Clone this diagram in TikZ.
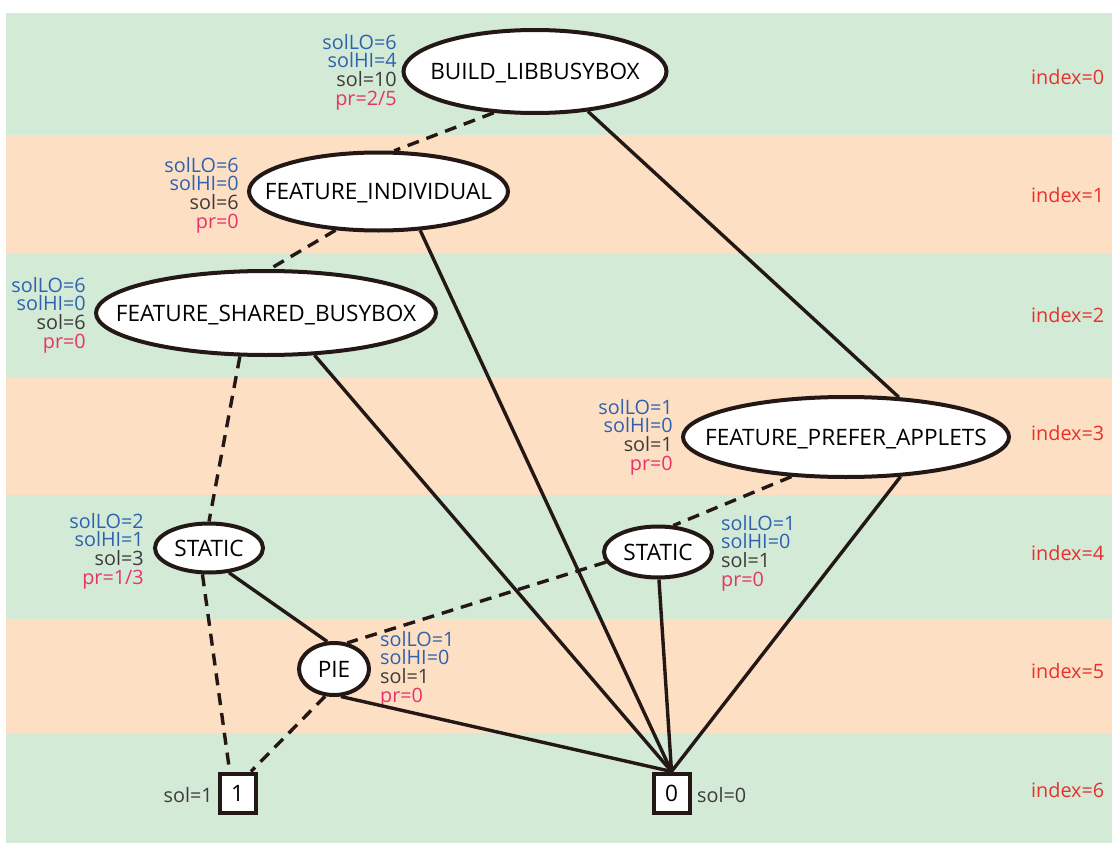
\documentclass[tikz,border=0pt]{standalone}
\usepackage{fontspec}
\setmainfont{Open Sans}
\usetikzlibrary{shapes.geometric}

\definecolor{bandgreen}{HTML}{D3EAD6}
\definecolor{bandorange}{HTML}{FDDFC3}
\definecolor{ink}{HTML}{231815}
\definecolor{loblue}{HTML}{2F62AE}
\definecolor{solgray}{HTML}{3E3A3A}
\definecolor{prpink}{HTML}{E8336A}
\definecolor{idxred}{HTML}{E8302C}

\newcommand{\solinfo}[4]{\textcolor{loblue}{solLO=#1}\\\textcolor{loblue}{solHI=#2}\\\textcolor{solgray}{sol=#3}\\\textcolor{prpink}{pr=#4}}
\newcommand{\vname}[1]{\makebox[0pt]{#1}}

\tikzset{
  bdd/.style={ellipse, draw=ink, line width=4pt, fill=white, inner sep=0pt,
    text height=16pt, text depth=0pt, font=\fontsize{22.6}{26}\selectfont},
  term/.style={rectangle, draw=ink, line width=4pt, fill=white, inner sep=0pt,
    minimum width=36pt, minimum height=39pt, text height=16pt, text depth=0pt,
    font=\fontsize{22.6}{26}\selectfont},
  info/.style={inner sep=0pt, font=\fontsize{19.8}{18.6}\selectfont},
  idx/.style={anchor=west, inner sep=0pt, text height=14.5pt, text depth=0pt,
    text=idxred, font=\fontsize{19.8}{22}\selectfont},
  loedge/.style={draw=ink, line width=3.4pt, dash pattern=on 12pt off 8pt},
  hiedge/.style={draw=ink, line width=3.4pt}
}

\begin{document}
\begin{tikzpicture}[x=1pt, y=-1pt]
  \useasboundingbox (0,0) rectangle (1112,843);

  % Bands
  \foreach \ytop/\ybot/\col in {13/135/bandgreen, 135/253/bandorange, 253/377/bandgreen,
      377/495/bandorange, 495/619/bandgreen, 619/733/bandorange, 733/843/bandgreen}
    \fill[\col] (6,\ytop) rectangle (1112,\ybot);

  \foreach \i/\y in {0/77, 1/195, 2/315, 3/433, 4/553, 5/671, 6/790}
    \node[idx] (idx\i) at (1031,\y) {index=\i};

  % Nodes
  \node[bdd, minimum width=263pt, minimum height=83pt] (build) at (535,71.5) {\vname{BUILD\_LIBBUSYBOX}};
  \node[bdd, minimum width=259pt, minimum height=78pt] (indiv) at (378.5,191.5) {\vname{FEATURE\_INDIVIDUAL}};
  \node[bdd, minimum width=340pt, minimum height=84pt] (shared) at (266,313) {\vname{FEATURE\_SHARED\_BUSYBOX}};
  \node[bdd, minimum width=326pt, minimum height=80pt] (prefer) at (846,437) {\vname{FEATURE\_PREFER\_APPLETS}};
  \node[bdd, minimum width=108pt, minimum height=49pt] (staticL) at (209,548) {\vname{STATIC}};
  \node[bdd, minimum width=108pt, minimum height=51pt] (staticR) at (658,552) {\vname{STATIC}};
  \node[bdd, minimum width=70pt, minimum height=52pt] (pie) at (334,669) {\vname{PIE}};
  \node[term] (one) at (237.5,793) {1};
  \node[term] (zero) at (671.5,793) {0};

  % Values
  \node[info, anchor=east, align=right] (build-info) at (397,72) {\solinfo{6}{4}{10}{2/5}};
  \node[info, anchor=east, align=right] (indiv-info) at (239,195) {\solinfo{6}{0}{6}{0}};
  \node[info, anchor=east, align=right] (shared-info) at (86,315) {\solinfo{6}{0}{6}{0}};
  \node[info, anchor=east, align=right] (prefer-info) at (673,437) {\solinfo{1}{0}{1}{0}};
  \node[info, anchor=east, align=right] (staticL-info) at (144,551) {\solinfo{2}{1}{3}{1/3}};
  \node[info, anchor=west, align=left] (staticR-info) at (721,553) {\solinfo{1}{0}{1}{0}};
  \node[info, anchor=west, align=left] (pie-info) at (380,669) {\solinfo{1}{0}{1}{0}};
  \node[info, anchor=east, text=solgray] (one-info) at (213,795) {sol=1};
  \node[info, anchor=west, text=solgray] (zero-info) at (697,795) {sol=0};

  % Edges
  \draw[loedge] (build.225) -- (indiv.69);
  \draw[hiedge] (build.-37) -- (prefer.37);
  \draw[loedge] (indiv.-138) -- (shared.85);
  \draw[hiedge] (indiv.-43) -- (zero.north);
  \draw[loedge] (shared.-121) -- (staticL.90);
  \draw[hiedge] (shared.-41) -- (zero.north);
  \draw[loedge] (prefer.-144) -- (staticR.60);
  \draw[hiedge] (prefer.-36) -- (zero.north);
  \draw[loedge] (staticR.191) -- (pie.63);
  \draw[hiedge] (staticR.-88) -- (zero.north);
  \draw[loedge] (staticL.-104) -- (one.110);
  \draw[hiedge] (staticL.-51) -- (pie.104);
  \draw[loedge] (pie.-108) -- (one.58);
  \draw[hiedge] (pie.-76) -- (zero.north);
\end{tikzpicture}
\end{document}
